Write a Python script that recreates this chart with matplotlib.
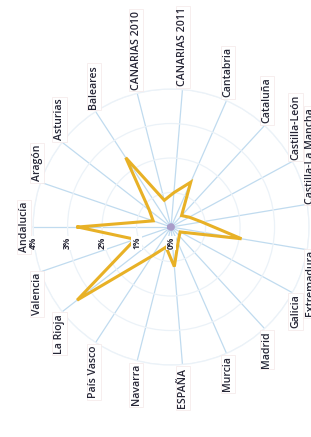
import numpy as np
import matplotlib.pyplot as plt

plt.rcParams['font.family'] = ['Open Sans', 'DejaVu Sans']

# comunidades, en el orden del radar
categorias = ['Andalucía', 'Aragón', 'Asturias', 'Baleares', 'CANARIAS 2010',
              'CANARIAS 2011', 'Cantabria', 'Cataluña', 'Castilla-León',
              'Castilla-La Mancha', 'Extremadura', 'Galicia', 'Madrid', 'Murcia',
              'ESPAÑA', 'Navarra', 'País Vasco', 'La Rioja', 'Valencia']
valores = [2.7, 0.55, 0.8, 2.4, 0.8, 1.0, 1.42, 0.45, 0.6, 0.9,
           2.07, 0.3, 0.35, 0.5, 1.15, 0.6, 1.0, 3.45, 1.1]
serie_base = [0.06, 0.06, 0.06, 0.06, 0.06, 0.06, 0.06, 0.06, 0.06, 0.06,
              0.06, 0.06, 0.06, 0.06, 0.06, 0.06, 0.06, 0.06, 0.06]
anillos = [0, 1, 2, 3, 4]
etiquetas_anillos = ['0%', '1%', '2%', '3%', '4%']


def plot_radar():
    fig = plt.figure(figsize=(3.11, 4.37), dpi=100)
    ax = fig.add_axes([0.1063, 0.1647, 0.8875, 0.6316], projection='polar')
    ax.set_theta_zero_location('W')
    ax.set_theta_direction(-1)

    n = len(categorias)
    ang = np.linspace(0, 2 * np.pi, n, endpoint=False)
    ang_c = np.append(ang, ang[0])

    ax.set_ylim(0, anillos[-1])
    ax.set_xticks(ang)
    ax.set_xticklabels([])
    ax.set_yticks(anillos[1:])
    ax.set_yticklabels([])
    ax.xaxis.grid(True, color='#c0dbef', lw=0.9)
    ax.yaxis.grid(True, color='#ebf2f8', lw=0.9)
    ax.spines['polar'].set_color('#ebf2f8')
    ax.spines['polar'].set_linewidth(0.9)

    v = np.append(valores, valores[0])
    ax.plot(ang_c, v, color='#e8b126', lw=2.2, solid_joinstyle='miter', zorder=4)
    b = np.append(serie_base, serie_base[0])
    ax.plot(ang_c, b, color='#a99cc9', lw=2.5, zorder=5)

    # etiquetas de cada eje (texto girado 90 grados)
    caja = dict(boxstyle='square,pad=0.15', fc='white', ec='#f4e8e8', lw=0.5)
    for t, nombre in zip(ang, categorias):
        s = np.sin(t)
        if s > 0.15:
            ha = 'left'
        elif s < -0.15:
            ha = 'right'
        else:
            ha = 'center'
        va = 'bottom' if np.cos(t) > 0.95 else 'center'
        ax.text(t, 4.1, nombre, rotation=90, rotation_mode='anchor',
                ha=ha, va=va, fontsize=7.6, fontweight='semibold',
                color='#262636', bbox=caja, clip_on=False, zorder=6)

    # etiquetas de porcentaje sobre el eje de Andalucía
    for r, et in zip(anillos, etiquetas_anillos):
        ax.annotate(et, xy=(0, r), xytext=(0, -16), textcoords='offset pixels',
                    rotation=90, ha='center', va='center', fontsize=6,
                    fontweight='bold', color='#262636',
                    bbox=dict(boxstyle='square,pad=0.1', fc='white', ec='none'),
                    annotation_clip=False, zorder=6)

    plt.savefig('out.png', dpi=100)


if __name__ == '__main__':
    plot_radar()
